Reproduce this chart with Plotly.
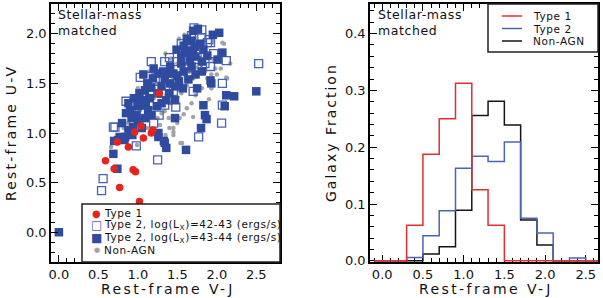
import plotly.graph_objects as go

# ---------------- data ----------------
type1_vj = [1.27, 1.04, 0.96, 1.07, 1.19, 1.17, 0.74, 0.88, 0.59, 0.70, 0.94, 0.97, 0.77, 1.02]
type1_uv = [1.40, 1.07, 1.01, 0.95, 1.03, 1.00, 0.91, 0.86, 0.72, 0.64, 0.63, 0.61, 0.45, 0.31]

t2low_vj = [1.17, 1.34, 1.71, 1.81, 1.90, 2.12, 2.53, 2.07, 2.07, 2.06, 1.77, 0.71, 0.85, 0.98, 1.25,
            0.56, 0.54, 1.13, 1.34, 1.92, 1.58, 1.49, 1.81, 1.75, 1.27, 1.92, 1.03, 1.22, 1.45, 1.60,
            1.85, 1.40, 1.00, 1.15, 1.55, 1.68, 0.92, 1.30, 1.65, 1.76, 1.20, 1.48, 1.96, 1.08, 1.70,
            1.88, 0.69]
t2low_uv = [1.72, 1.72, 2.06, 2.04, 1.94, 1.73, 1.70, 1.50, 1.28, 1.10, 0.96, 1.06, 1.32, 0.87, 0.73,
            0.54, 0.42, 1.57, 1.28, 1.67, 1.74, 1.72, 1.96, 1.81, 1.18, 1.91, 1.56, 1.52, 1.42, 1.65,
            1.70, 1.76, 1.30, 1.38, 1.90, 1.98, 1.22, 1.40, 1.58, 1.66, 1.10, 1.26, 1.80, 1.20, 1.42,
            1.91, 1.06]

t2high_vj = [1.76, 1.95, 2.03, 1.68, 1.72, 1.79, 1.83, 1.63, 1.70, 1.55, 1.88, 2.01, 2.07, 1.60, 1.49,
             1.73, 1.81, 1.68, 1.58, 1.45, 1.41, 1.64, 1.73, 1.81, 1.93, 2.12, 2.22, 2.50, 2.10, 1.83,
             1.85, 1.87, 1.80, 1.61, 1.36, 1.33, 1.26, 0.83, 0.69, 0.74, 0.00, 1.47, 1.34, 1.26, 0.77,
             0.84, 0.75, 0.90, 0.92, 1.00, 1.05, 1.13, 0.94, 1.09, 1.17, 0.88, 1.24, 1.07, 1.19, 1.30,
             1.41, 1.47, 1.26, 1.09, 1.17, 1.34, 1.47, 1.36, 1.52, 1.57, 1.38, 1.25, 1.12, 1.02, 0.95,
             0.85, 0.80, 0.98, 1.05, 0.88, 0.70, 1.15, 1.30, 1.40, 1.55, 1.66, 1.50, 1.62, 1.70, 1.58,
             1.32, 1.20, 1.75, 1.92, 1.10, 1.00, 0.93]
t2high_uv = [2.05, 1.99, 2.01, 1.93, 1.87, 1.90, 1.84, 1.83, 1.80, 1.78, 1.78, 1.74, 1.81, 1.81, 1.84,
             1.77, 1.72, 1.67, 1.62, 1.60, 1.67, 1.54, 1.59, 1.62, 1.50, 1.38, 1.37, 1.42, 1.27, 1.28,
             1.18, 1.14, 1.05, 0.83, 0.85, 0.92, 0.96, 0.93, 0.79, 0.64, 0.00, 1.15, 0.90, 1.00, 0.96,
             0.96, 0.93, 1.23, 1.15, 1.27, 1.33, 1.23, 1.06, 1.15, 1.18, 1.30, 1.27, 1.59, 1.55, 1.47,
             1.50, 1.47, 1.40, 1.43, 1.46, 1.54, 1.33, 1.33, 1.52, 1.45, 1.60, 1.60, 1.50, 1.40, 1.35,
             1.20, 1.10, 1.18, 1.05, 1.03, 0.92, 1.35, 1.30, 1.40, 1.70, 1.74, 1.58, 1.95, 2.03, 1.88,
             1.62, 1.65, 1.45, 1.53, 1.28, 1.12, 0.98]

nonagn_vj = [1.59, 2.07, 1.96, 0.66, 1.56, 0.99, 2.12, 1.81, 1.90, 1.70, 1.58, 1.53, 1.77, 1.73, 2.09,
             2.17, 2.00, 1.93, 2.13, 1.45, 1.45, 1.17, 1.28, 1.34, 1.39, 0.93, 1.45, 1.54, 1.62, 1.66,
             1.70, 1.75, 1.80, 1.85, 1.88, 1.62, 1.55, 1.50, 1.42, 1.36, 1.30, 1.25, 1.20, 1.12, 1.08,
             1.02, 0.98, 1.05, 1.12, 0.88, 0.82, 1.50, 1.42, 1.35, 1.52, 1.65, 1.72, 1.85, 1.98, 1.93,
             2.05, 1.68, 1.62, 1.50, 1.40, 1.35, 1.28, 1.60, 1.55, 1.45, 1.38, 1.25, 1.15, 1.00]
nonagn_uv = [1.99, 1.91, 1.74, 0.86, 0.90, 0.88, 1.56, 1.45, 1.34, 1.16, 1.19, 1.15, 1.43, 1.38, 1.90,
             1.70, 1.59, 1.59, 1.55, 1.05, 0.98, 1.25, 1.27, 1.22, 1.15, 0.97, 1.01, 0.90, 1.70, 1.62,
             1.55, 1.66, 1.75, 1.62, 1.55, 1.48, 1.40, 1.36, 1.30, 1.38, 1.20, 1.15, 1.35, 1.30, 1.40,
             1.22, 1.30, 1.10, 1.05, 1.10, 1.05, 1.70, 1.75, 1.80, 1.95, 1.88, 1.96, 1.88, 1.65, 1.45,
             1.65, 1.30, 1.25, 1.10, 1.05, 0.98, 1.08, 1.58, 1.50, 1.55, 1.48, 1.50, 1.62, 1.45]

bin_edges = [-0.1, 0.1, 0.3, 0.5, 0.7, 0.9, 1.1, 1.3, 1.5, 1.7, 1.9, 2.1, 2.3, 2.5, 2.7]
frac_type1 = [0, 0, 0.0625, 0.1875, 0.25, 0.3125, 0.125, 0.0625, 0, 0, 0, 0, 0, 0]
frac_type2 = [0, 0, 0.006, 0.044, 0.088, 0.163, 0.184, 0.175, 0.209, 0.075, 0.049, 0, 0.005, 0]
frac_nonagn = [0, 0, 0, 0.012, 0.025, 0.089, 0.256, 0.281, 0.239, 0.072, 0.028, 0, 0, 0]

left_xticks = [0.0, 0.5, 1.0, 1.5, 2.0, 2.5]
left_yticks = [0.0, 0.5, 1.0, 1.5, 2.0]
right_yticks = [0.0, 0.1, 0.2, 0.3, 0.4]

# ---------------- style ----------------
W, H = 603, 298
FONT = "DejaVu Sans"
RED = "#e8231e"
BLUE_F = "#2f4b9f"
BLUE_O = "#4a62b6"
GRAY = "#a3a3a3"
H_RED = "#e23030"
H_BLUE = "#4d64b4"
H_BLACK = "#151515"


def px(x):
    return x / W


def py(y):
    return 1 - y / H


def spaced(t, s=1.2):
    return f'<span style="letter-spacing:{s}px">{t}</span>'


fig = go.Figure()

# left panel scatter
fig.add_trace(go.Scatter(x=nonagn_vj, y=nonagn_uv, mode="markers", xaxis="x", yaxis="y",
                         marker=dict(symbol="circle", size=4.5, color=GRAY, line=dict(width=0)),
                         showlegend=False))
fig.add_trace(go.Scatter(x=t2low_vj, y=t2low_uv, mode="markers", xaxis="x", yaxis="y",
                         marker=dict(symbol="square-open", size=8, color=BLUE_O, line=dict(width=1.3)),
                         showlegend=False))
fig.add_trace(go.Scatter(x=t2high_vj, y=t2high_uv, mode="markers", xaxis="x", yaxis="y",
                         marker=dict(symbol="square", size=8.5, color=BLUE_F, line=dict(width=0)),
                         showlegend=False))
fig.add_trace(go.Scatter(x=type1_vj, y=type1_uv, mode="markers", xaxis="x", yaxis="y",
                         marker=dict(symbol="circle", size=7.5, color=RED, line=dict(width=0)),
                         showlegend=False))

# right panel histograms
for vals, col in [(frac_nonagn, H_BLACK), (frac_type2, H_BLUE), (frac_type1, H_RED)]:
    fig.add_trace(go.Scatter(x=bin_edges, y=vals + [vals[-1]], mode="lines", line_shape="hv",
                             xaxis="x2", yaxis="y2", line=dict(color=col, width=1.5),
                             showlegend=False))

ax_common = dict(showline=True, linecolor="black", linewidth=1.5, mirror="allticks",
                 ticks="inside", ticklen=7, tickwidth=1.2, tickcolor="black",
                 showgrid=False, zeroline=False,
                 tickfont=dict(family=FONT, size=13, color="#111"),
                 automargin=False)

ydom = [py(262), py(4)]
fig.update_layout(
    width=W, height=H, margin=dict(l=0, r=0, t=0, b=0),
    paper_bgcolor="white", plot_bgcolor="white",
    xaxis=dict(domain=[px(51), px(280)], range=[-0.1, 2.8], tickvals=left_xticks,
               ticktext=[f"{v:.1f}" for v in left_xticks],
               minor=dict(dtick=0.1, tick0=0, ticks="inside", ticklen=4, tickcolor="black"),
               anchor="y", **ax_common),
    yaxis=dict(domain=ydom, range=[-0.3, 2.3], tickvals=left_yticks,
               ticktext=[f"{v:.1f}" for v in left_yticks],
               minor=dict(dtick=0.1, tick0=0, ticks="inside", ticklen=4, tickcolor="black"),
               anchor="x", **ax_common),
    xaxis2=dict(domain=[px(370), px(598)], range=[-0.15, 2.65], tickvals=left_xticks,
                ticktext=[f"{v:.1f}" for v in left_xticks],
                minor=dict(dtick=0.1, tick0=0, ticks="inside", ticklen=4, tickcolor="black"),
                anchor="y2", layer="below traces", **ax_common),
    yaxis2=dict(domain=ydom, range=[-0.002, 0.452], tickvals=right_yticks,
                ticktext=[f"{v:.1f}" for v in right_yticks],
                minor=dict(dtick=0.02, tick0=0, ticks="inside", ticklen=4, tickcolor="black"),
                anchor="x2", layer="below traces", **ax_common),
)

ann = []
tf = dict(family=FONT, size=14, color="#111")
# axis titles
ann.append(dict(text=spaced("Rest-frame V-J", 2.4), x=px(168), y=py(289), xref="paper", yref="paper",
                showarrow=False, font=tf, xanchor="center", yanchor="middle"))
ann.append(dict(text=spaced("Rest-frame V-J", 2.4), x=px(486), y=py(289), xref="paper", yref="paper",
                showarrow=False, font=tf, xanchor="center", yanchor="middle"))
ann.append(dict(text=spaced("Rest-frame U-V", 2.2), x=px(11), y=py(133), xref="paper", yref="paper",
                showarrow=False, font=tf, textangle=-90, xanchor="center", yanchor="middle"))
ann.append(dict(text=spaced("Galaxy Fraction", 2.0), x=px(331), y=py(133), xref="paper", yref="paper",
                showarrow=False, font=tf, textangle=-90, xanchor="center", yanchor="middle"))
# panel labels
for x0 in (56, 376):
    ann.append(dict(text=spaced("Stellar-mass", 0.6) + "<br>" + spaced("matched", 0.6),
                    x=px(x0), y=py(5), xref="paper", yref="paper", showarrow=False,
                    font=dict(family=FONT, size=12.5, color="#111"), align="left",
                    xanchor="left", yanchor="top"))

# left legend (manual)
shapes = [dict(type="rect", xref="paper", yref="paper", x0=px(82), x1=px(280), y0=py(262), y1=py(204),
               line=dict(color="#222", width=1.5), fillcolor="white", layer="above")]
leg_font = dict(family=FONT, size=10.5, color="#111")
left_entries = [
    ("●", RED, 10, "Type 1"),
    ("□", BLUE_O, 12, "Type 2, log(L<sub>X</sub>)=42-43 (ergs/s)"),
    ("■", BLUE_F, 12, "Type 2, log(L<sub>X</sub>)=43-44 (ergs/s)"),
    ("●", GRAY, 7, "Non-AGN"),
]
for i, (sym, col, sz, label) in enumerate(left_entries):
    yy = 213 + i * 12.4
    ann.append(dict(text=sym, x=px(96.5), y=py(yy), xref="paper", yref="paper", showarrow=False,
                    font=dict(family=FONT, size=sz, color=col), xanchor="center", yanchor="middle"))
    ann.append(dict(text=spaced(label, 0.6), x=px(102), y=py(yy), xref="paper", yref="paper", showarrow=False,
                    font=leg_font, xanchor="left", yanchor="middle"))

# right legend (manual)
shapes.append(dict(type="rect", xref="paper", yref="paper", x0=px(488), x1=px(598), y0=py(52), y1=py(4),
                   line=dict(color="#222", width=1.5), fillcolor="white", layer="above"))
right_entries = [(H_RED, "Type 1"), (H_BLUE, "Type 2"), (H_BLACK, "Non-AGN")]
for i, (col, label) in enumerate(right_entries):
    yy = 16 + i * 12.5
    shapes.append(dict(type="line", xref="paper", yref="paper", x0=px(502), x1=px(522), y0=py(yy), y1=py(yy),
                       line=dict(color=col, width=1.5), layer="above"))
    ann.append(dict(text=spaced(label, 0.6), x=px(531), y=py(yy), xref="paper", yref="paper", showarrow=False,
                    font=leg_font, xanchor="left", yanchor="middle"))

fig.update_layout(annotations=ann, shapes=shapes)
fig.write_html("out.html")
